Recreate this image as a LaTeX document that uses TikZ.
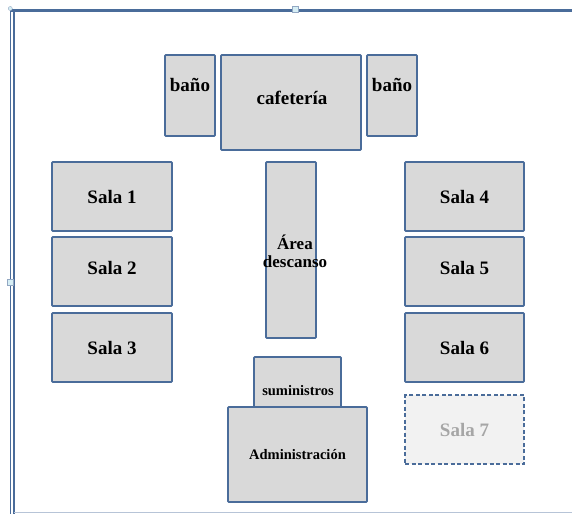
\documentclass[tikz,border=0pt]{standalone}
\usepackage{fontspec}
\setmainfont{Liberation Serif}
\definecolor{edge}{HTML}{4A6C9A}
\definecolor{roomfill}{HTML}{D9D9D9}
\definecolor{ghostfill}{HTML}{F2F2F2}
\definecolor{ghosttext}{HTML}{A6A6A6}
\definecolor{handle}{HTML}{D6EEF5}
\begin{document}
\begin{tikzpicture}[x=1pt,y=-1pt,
  room/.style={draw=edge, fill=roomfill, line width=1.7pt, inner sep=0pt, rounded corners=0.8pt},
  ghost/.style={draw=edge, fill=ghostfill, line width=1.7pt, dashed, dash pattern=on 4pt off 2.5pt, inner sep=0pt},
  big/.style={font=\bfseries\fontsize{19}{21}\selectfont},
  small/.style={font=\bfseries\fontsize{14.5}{16}\selectfont},
  mid/.style={font=\bfseries\fontsize{17}{17}\selectfont, align=center, inner sep=0pt},
  grip/.style={draw=edge!60, fill=handle, line width=0.4pt, minimum size=6pt, inner sep=0pt}
]
\useasboundingbox (0,0) rectangle (572,514);
\fill[white] (0,0) rectangle (572,514);

% page frame
\draw[edge, line width=2.6pt] (10,10.3) -- (572,10.3);
\draw[edge, line width=1.4pt] (10.3,8) -- (10.3,514);
\draw[edge, line width=1.4pt] (13.8,11) -- (13.8,514);
\draw[edge!40, line width=1pt] (14,512.5) -- (572,512.5);
\node[grip] (gtop) at (295,9) {};
\node[grip] (gleft) at (10.3,282) {};
\node[grip, circle, minimum size=4pt] (gcorner) at (10.3,8.5) {};

% top row: washrooms and cafeteria
\node[room, minimum width=50pt, minimum height=81pt] (b1) at (190,95.5) {};
\node[big] (b1t) at (190,85) {baño};
\node[room, minimum width=140pt, minimum height=95pt] (caf) at (291,102.5) {};
\node[big] (caft) at (292,98) {cafetería};
\node[room, minimum width=50pt, minimum height=81pt] (b2) at (392,95.5) {};
\node[big] (b2t) at (392,85) {baño};

% left classrooms
\node[room, big, minimum width=120pt, minimum height=69pt] (s1) at (112,196.5) {Sala 1};
\node[room, minimum width=120pt, minimum height=69pt] (s2) at (112,271.5) {};
\node[big] (s2t) at (112,267.5) {Sala 2};
\node[room, big, minimum width=120pt, minimum height=69pt] (s3) at (112,347.5) {Sala 3};

% rest area
\node[room, minimum width=50pt, minimum height=176pt] (rest) at (291,250) {};
\node[mid] (restt) at (295,251) {Área\\[1pt]descanso};

% right classrooms
\node[room, big, minimum width=119pt, minimum height=69pt] (s4) at (464.5,196.5) {Sala 4};
\node[room, minimum width=119pt, minimum height=69pt] (s5) at (464.5,271.5) {};
\node[big] (s5t) at (464.5,267.5) {Sala 5};
\node[room, big, minimum width=119pt, minimum height=69pt] (s6) at (464.5,347.5) {Sala 6};
\node[ghost, big, text=ghosttext, minimum width=119pt, minimum height=69pt] (s7) at (464.5,429.5) {Sala 7};

% supplies and administration
\node[room, minimum width=87pt, minimum height=51pt] (sup) at (297.5,382.5) {};
\node[small] (supt) at (298,391) {suministros};
\node[room, small, minimum width=139pt, minimum height=95pt] (adm) at (297.5,454.5) {Administración};
\end{tikzpicture}
\end{document}
